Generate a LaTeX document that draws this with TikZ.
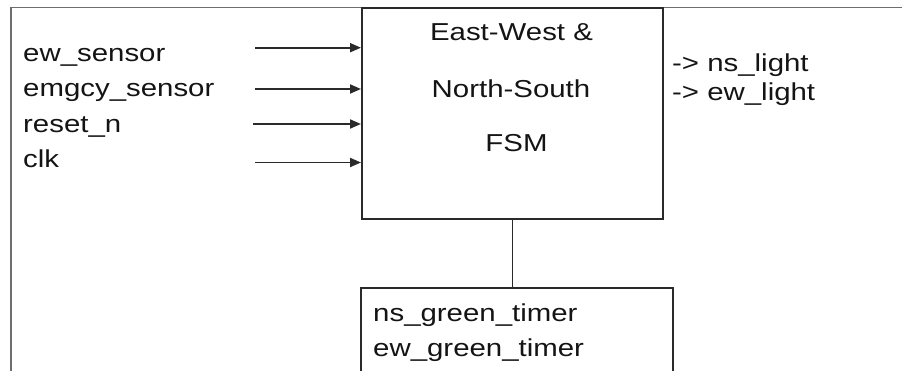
\documentclass[tikz,border=0pt]{standalone}
\usepackage{fontspec}
\setmainfont{Liberation Sans}[FakeStretch=1.2]
\usetikzlibrary{arrows.meta}
\definecolor{ink}{HTML}{141414}
\definecolor{edge}{HTML}{2A2A2A}
\definecolor{frame}{HTML}{6E6E6E}
\begin{document}
\begin{tikzpicture}[x=1pt,y=-1pt,
  lbl/.style={inner sep=0pt, text=ink, font=\fontsize{24.5}{29}\selectfont},
  box/.style={draw=edge, line width=1.9pt, rectangle, inner sep=0pt},
  arr/.style={draw=edge, line width=1.9pt, -{Triangle[length=11pt,width=9pt]}},
  wire/.style={draw=edge, line width=1.9pt}]
\useasboundingbox (0,0) rectangle (902,371);
\clip (0,0) rectangle (902,371);
% outer frame
\draw[frame, line width=1.8pt] (11,380) -- (11,7.5) -- (905,7.5);
% FSM box
\node[box, anchor=north west, minimum width=301pt, minimum height=211pt] (fsm) at (361,7.5) {};
\node[lbl, anchor=base] (f1) at (511.5,41) {East-West \&};
\node[lbl, anchor=base] (f2) at (511,98) {North-South};
\node[lbl, anchor=base] (f3) at (516.5,151.5) {FSM};
% inputs
\node[lbl, anchor=base west] (i1) at (23,61.5) {ew\_sensor};
\node[lbl, anchor=base west] (i2) at (23,97) {emgcy\_sensor};
\node[lbl, anchor=base west] (i3) at (23,132.5) {reset\_n};
\node[lbl, anchor=base west] (i4) at (23,168) {clk};
\coordinate (s1) at (255,47.7);
\coordinate (s2) at (255,89);
\coordinate (s3) at (253,124);
\coordinate (s4) at (255,162.5);
\draw[arr] (s1) -- (s1 -| fsm.west);
\draw[arr] (s2) -- (s2 -| fsm.west);
\draw[arr] (s3) -- (s3 -| fsm.west);
\draw[arr] (s4) -- (s4 -| fsm.west);
% outputs
\node[lbl, anchor=base west] (o1) at (672,71.5) {-> ns\_light};
\node[lbl, anchor=base west] (o2) at (672,100.5) {-> ew\_light};
% timer box
\node[box, anchor=north west, minimum width=312pt, minimum height=130pt] (timer) at (360,287) {};
\node[lbl, anchor=base west] (t1) at (373,321.5) {ns\_green\_timer};
\node[lbl, anchor=base west] (t2) at (373,356.5) {ew\_green\_timer};
\draw[wire] (fsm.south) -- (fsm.south |- timer.north);
\end{tikzpicture}
\end{document}
